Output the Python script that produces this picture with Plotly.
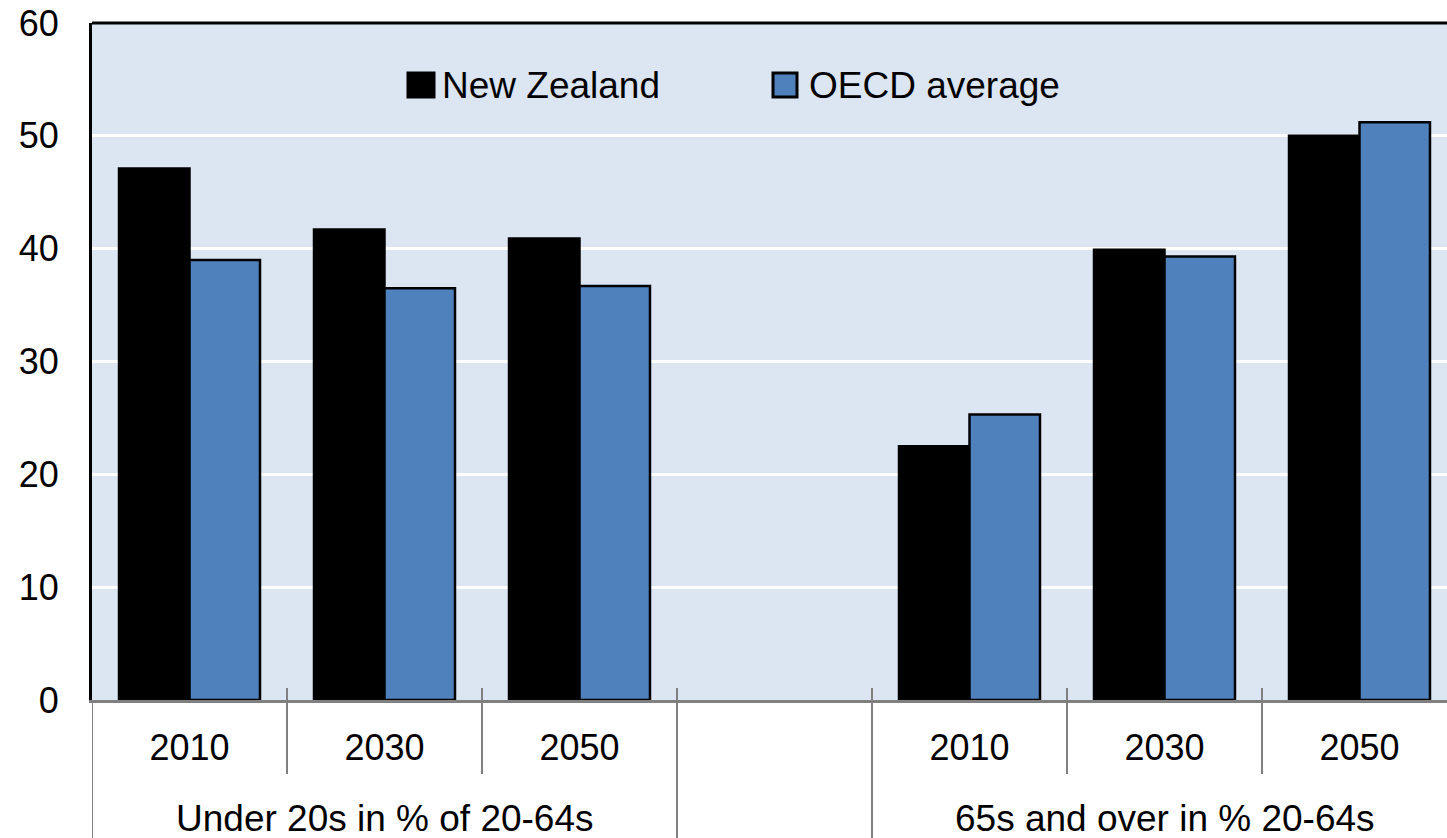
import plotly.graph_objects as go

# ---- data ----
slot_labels = ["2010", "2030", "2050", None, "2010", "2030", "2050"]
group_labels = ["Under 20s in % of 20-64s", "65s and over in % 20-64s"]
group_slots = [[0, 1, 2], [4, 5, 6]]
series_names = ["New Zealand", "OECD average"]
nz_values = [47.1, 41.7, 40.9, None, 22.5, 39.9, 50.0]
oecd_values = [39.0, 36.5, 36.7, None, 25.3, 39.3, 51.2]
series_colors = ["#000000", "#4F81BD"]

W, H = 1447, 838
PLOT_L, PLOT_T, PLOT_B = 92, 23, 700
ML, MT = PLOT_L, PLOT_T
MB = H - PLOT_B
MR = 0
plot_w = W - ML - MR
plot_h = PLOT_B - PLOT_T
slot_px = 195.0

x_pos = list(range(len(slot_labels)))
x_end = -0.5 + plot_w / slot_px

def py2paper(py):
    return (PLOT_B - py) / plot_h

def px2paper(px):
    return (px - PLOT_L) / plot_w

fig = go.Figure()
for name, vals, col in zip(series_names, [nz_values, oecd_values], series_colors):
    fig.add_trace(go.Bar(
        x=x_pos, y=vals, name=name,
        marker=dict(color=col, line=dict(color="#000000", width=2.5)),
        showlegend=False,
    ))

font_family = "Liberation Sans, Arial, sans-serif"

tickvals = [i for i, l in enumerate(slot_labels) if l is not None]
ticktext = [l for l in slot_labels if l is not None]

shapes = []
# top border
shapes.append(dict(type="line", xref="paper", yref="paper", x0=0, x1=1, y0=1, y1=1,
                   line=dict(color="#000000", width=3)))
# left axis continuation below plot
shapes.append(dict(type="line", xref="x", yref="paper", x0=-0.5, x1=-0.5,
                   y0=py2paper(H + 5), y1=0, line=dict(color="#808080", width=2)))
# separators
top_sep = py2paper(688)
short_bot = py2paper(774)
long_bot = py2paper(H + 5)
for b in [i + 0.5 for i in range(len(slot_labels) - 1)]:
    left = slot_labels[int(b - 0.5)]
    right = slot_labels[int(b + 0.5)]
    is_long = left is None or right is None
    shapes.append(dict(type="line", xref="x", yref="paper", x0=b, x1=b,
                       y0=long_bot if is_long else short_bot, y1=top_sep,
                       line=dict(color="#808080", width=2)))

annotations = []
for lab, slots in zip(group_labels, group_slots):
    annotations.append(dict(text=lab, xref="x", yref="paper",
                            x=sum(slots) / len(slots), y=py2paper(818),
                            showarrow=False, xanchor="center", yanchor="middle",
                            font=dict(family=font_family, size=37, color="#000000")))

# manual legend
legend_items = [(408, 434, 440), (773, 797, 807)]
for (sx0, sx1, tx), name, col in zip(legend_items, series_names, series_colors):
    shapes.append(dict(type="rect", xref="paper", yref="paper",
                       x0=px2paper(sx0), x1=px2paper(sx1),
                       y0=py2paper(97), y1=py2paper(73),
                       fillcolor=col, line=dict(color="#000000", width=3)))
    annotations.append(dict(text=name, xref="paper", yref="paper",
                            x=px2paper(tx), y=py2paper(86),
                            showarrow=False, xanchor="left", yanchor="middle",
                            font=dict(family=font_family, size=37, color="#000000")))

fig.update_layout(
    width=W, height=H,
    margin=dict(l=ML, r=MR, t=MT, b=MB, pad=0),
    paper_bgcolor="#FFFFFF",
    plot_bgcolor="#DCE6F2",
    barmode="group",
    bargap=0.277,
    bargroupgap=0,
    showlegend=False,
    font=dict(family=font_family, size=36, color="#000000"),
    xaxis=dict(
        range=[-0.5, x_end],
        tickmode="array", tickvals=tickvals, ticktext=ticktext,
        ticks="", showgrid=False, zeroline=False,
        showline=True, linecolor="#808080", linewidth=3,
        tickfont=dict(family=font_family, size=36, color="#000000"),
        ticklabelstandoff=14,
        automargin=False,
    ),
    yaxis=dict(
        range=[0, 60], dtick=10, tick0=0,
        showgrid=True, gridcolor="#FFFFFF", gridwidth=3,
        zeroline=False, ticks="",
        showline=True, linecolor="#000000", linewidth=3,
        tickfont=dict(family=font_family, size=36, color="#000000"),
        ticklabelstandoff=23,
        ticklabeloverflow="allow",
        automargin=False,
    ),
    shapes=shapes,
    annotations=annotations,
)

fig.write_html(
    "out.html",
    config={"displayModeBar": False},
    post_script="document.body.style.margin='0';document.body.style.overflow='hidden';",
)
